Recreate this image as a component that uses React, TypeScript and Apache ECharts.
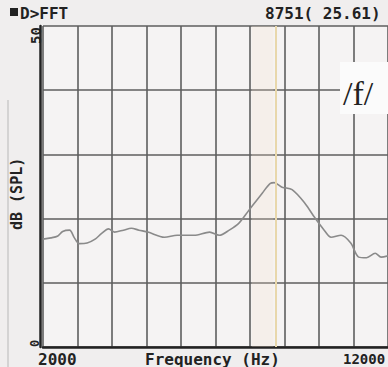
import React, { useEffect, useRef } from "react";
import * as echarts from "echarts";

const freqHz = [2000, 2230, 2430, 2570, 2770, 2910, 3050, 3280, 3510, 3700, 3900, 4070, 4330, 4560, 4780, 5040, 5520, 5890, 6380, 6830, 7110, 7400, 7680, 7970, 8360, 8590, 8700, 8930, 9220, 9590, 9870, 10150, 10350, 10640, 10920, 11150, 11380, 11630, 11800, 12000];
const levelDb = [16.8, 17.0, 17.3, 18.0, 18.2, 17.0, 16.1, 16.2, 16.8, 17.7, 18.4, 17.9, 18.2, 18.5, 18.2, 17.9, 17.1, 17.4, 17.4, 17.9, 17.4, 18.2, 19.3, 21.3, 24.0, 25.5, 25.6, 24.9, 24.5, 22.4, 20.2, 18.2, 17.1, 17.4, 16.2, 14.0, 13.9, 14.6, 14.0, 14.2];
const cursorHz = 8751;
const cursorDb = 25.61;
const xTickLabels = ["2000", "12000"];
const yTickLabels = ["50", "0"];

const MONO = "'DejaVu Sans Mono', 'Liberation Mono', monospace";

export default function App() {
  const ref = useRef<HTMLDivElement>(null);
  useEffect(() => {
    if (!ref.current) return;
    const chart = echarts.init(ref.current, null, { renderer: "svg" });
    const data = freqHz.map((f, i) => [f, levelDb[i]]);
    chart.setOption({
      animation: false,
      backgroundColor: "#f0eeee",
      grid: { left: 43, top: 26, right: -7, bottom: 20, show: true, backgroundColor: "#f5f3f3", borderWidth: 0 },
      xAxis: {
        type: "value",
        min: 2000,
        max: 12000,
        interval: 1000,
        axisLine: { show: true, onZero: false, lineStyle: { color: "#222", width: 2.5 } },
        axisTick: { show: false },
        axisLabel: { show: false },
        splitLine: { show: true, lineStyle: { color: "#5e5e5e", width: 1.6 } },
      },
      yAxis: {
        type: "value",
        min: 0,
        max: 50,
        interval: 10,
        offset: 3,
        axisLine: { show: true, lineStyle: { color: "#222", width: 2.5 } },
        axisTick: { show: false },
        axisLabel: { show: false },
        splitLine: { show: true, lineStyle: { color: "#5e5e5e", width: 1.6 } },
      },
      series: [
        {
          type: "line",
          data,
          showSymbol: false,
          smooth: 0.3,
          lineStyle: { color: "#8a8a8a", width: 1.6 },
          z: 3,
          markArea: {
            silent: true,
            itemStyle: { color: "rgba(245,228,205,0.22)" },
            data: [[{ xAxis: 8050 }, { xAxis: 8680 }]],
          },
          markLine: {
            silent: true,
            symbol: "none",
            label: { show: false },
            lineStyle: { color: "#e8d7ab", width: 2, type: "solid" },
            data: [{ xAxis: cursorHz }],
          },
        },
      ],
      graphic: [
        { type: "line", shape: { x1: 8, y1: 100, x2: 8, y2: 367 }, style: { stroke: "#b8b8b8", lineWidth: 1 } },
        { type: "rect", shape: { x: 10, y: 8, width: 8, height: 8 }, style: { fill: "#222" } },
        { type: "text", x: 20, y: 5, style: { text: "D>FFT", font: `bold 16px ${MONO}`, fill: "#222" } },
        { type: "text", x: 265, y: 5, style: { text: `${cursorHz}( ${cursorDb})`, font: `bold 16px ${MONO}`, fill: "#222" } },
        { type: "text", x: 29, y: 44, rotation: Math.PI / 2, style: { text: yTickLabels[0], font: `bold 14px ${MONO}`, fill: "#222" } },
        { type: "text", x: 29, y: 347, rotation: Math.PI / 2, style: { text: yTickLabels[1], font: `bold 12px ${MONO}`, fill: "#222" } },
        { type: "text", x: 9, y: 230, rotation: Math.PI / 2, style: { text: "dB (SPL)", font: `bold 15px ${MONO}`, fill: "#222" } },
        { type: "text", x: 38, y: 351, style: { text: xTickLabels[0], font: `bold 16px ${MONO}`, fill: "#222" } },
        { type: "text", x: 145, y: 351, style: { text: "Frequency (Hz)", font: `bold 16px ${MONO}`, fill: "#222" } },
        { type: "text", x: 343, y: 352, style: { text: xTickLabels[1], font: `bold 14px ${MONO}`, fill: "#222" } },
        { type: "rect", shape: { x: 340, y: 62, width: 50, height: 52 }, style: { fill: "#fbfbfb" }, z: 10 },
        { type: "text", x: 343, y: 76, z: 11, style: { text: "/f/", font: "34px 'Liberation Serif', 'DejaVu Serif', serif", fill: "#222" } },
      ],
    });
    return () => chart.dispose();
  }, []);
  return <div ref={ref} style={{ position: "fixed", left: 0, top: 0, width: 388, height: 367 }} />;
}
